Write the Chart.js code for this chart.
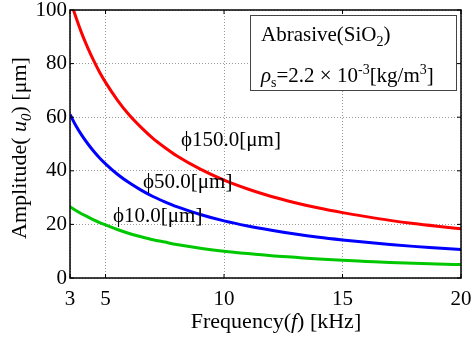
<!DOCTYPE html>
<html>
<head>
<meta charset="utf-8">
<script src="https://cdn.jsdelivr.net/npm/chart.js@4/dist/chart.umd.min.js"></script>
<style>
  html, body { margin: 0; padding: 0; background: #fff; }
  #chart { display: block; }
</style>
</head>
<body>
<canvas id="chart" width="475" height="340"></canvas>
<script>
// frequency samples [kHz]
const frequency = [3.5, 3.75, 4, 4.25, 4.5, 4.75, 5, 5.5, 6, 6.5, 7, 7.5, 8, 9, 10, 11, 12, 13, 14, 15, 16, 17, 18, 19, 20];
// amplitude u0 [um]
const amp150 = [104, 97.3, 91.2, 85.9, 81.1, 76.8, 73, 66.4, 60.8, 56.2, 52.1, 48.7, 45.6, 40.6, 36.5, 33.2, 30.4, 28.1, 26.1, 24.4, 22.9, 21.5, 20.3, 19.3, 18.4];
const amp50 = [61, 56.8, 53.2, 50.1, 47.3, 44.8, 42.6, 38.7, 35.5, 32.8, 30.4, 28.4, 26.6, 23.7, 21.3, 19.4, 17.8, 16.4, 15.2, 14.2, 13.3, 12.5, 11.8, 11.2, 10.6];
const amp10 = [26.6, 25.2, 23.9, 22.8, 21.7, 20.7, 19.8, 18.1, 16.6, 15.4, 14.3, 13.4, 12.5, 11.1, 10, 9.1, 8.3, 7.7, 7.1, 6.6, 6.2, 5.8, 5.5, 5.2, 5];

const xTickValues = [3.5, 5, 10, 15, 20];
const xTickLabels = ['3', '5', '10', '15', '20'];
const yTickValues = [0, 20, 40, 60, 80, 100];

const serif = '"Liberation Serif", "Times New Roman", serif';
const fs = 21;
const titleSize = 22;

function pts(ys) {
  return frequency.map((f, i) => ({ x: f, y: ys[i] }));
}

// pieces: [text, kind]  kind = n | i | sub | isub | sup
function pieceFont(k, size) {
  let s = size, st = '';
  if (k === 'i' || k === 'isub') st = 'italic ';
  if (k === 'sub' || k === 'sup' || k === 'isub') s = Math.round(size * 0.68);
  return st + s + 'px ' + serif;
}

function richText(ctx, x, y, parts, size) {
  let cx = x;
  parts.forEach(([t, k]) => {
    let dy = 0;
    if (k === 'sub' || k === 'isub') dy = size * 0.22;
    if (k === 'sup') dy = -size * 0.38;
    ctx.font = pieceFont(k, size);
    ctx.fillText(t, cx, y + dy);
    cx += ctx.measureText(t).width;
  });
  return cx - x;
}

function richWidth(ctx, parts, size) {
  let w = 0;
  parts.forEach(([t, k]) => {
    ctx.font = pieceFont(k, size);
    w += ctx.measureText(t).width;
  });
  return w;
}

const decorations = {
  id: 'decorations',
  afterDraw(chart) {
    const { ctx, chartArea: a } = chart;
    const xs = chart.scales.x, ys = chart.scales.y;
    ctx.save();
    // frame
    ctx.strokeStyle = '#000';
    ctx.lineWidth = 1.5;
    ctx.strokeRect(a.left, a.top, a.right - a.left, a.bottom - a.top);
    // inward tick marks
    ctx.lineWidth = 1;
    yTickValues.forEach(v => {
      const py = ys.getPixelForValue(v);
      ctx.beginPath();
      ctx.moveTo(a.left, py); ctx.lineTo(a.left + 4, py);
      ctx.moveTo(a.right, py); ctx.lineTo(a.right - 4, py);
      ctx.stroke();
    });
    xTickValues.forEach(v => {
      const px = xs.getPixelForValue(v);
      ctx.beginPath();
      ctx.moveTo(px, a.bottom); ctx.lineTo(px, a.bottom - 4);
      ctx.moveTo(px, a.top); ctx.lineTo(px, a.top + 4);
      ctx.stroke();
    });

    ctx.fillStyle = '#000';
    ctx.textBaseline = 'alphabetic';
    ctx.textAlign = 'left';

    // curve labels
    ctx.font = fs + 'px ' + serif;
    ctx.fillText('\u03d5150.0[\u03bcm]', 181, 146);
    ctx.fillText('\u03d550.0[\u03bcm]', 143, 188);
    ctx.fillText('\u03d510.0[\u03bcm]', 113, 222);

    // info box
    ctx.fillStyle = '#fff';
    ctx.fillRect(250, 15, 207, 76);
    ctx.strokeStyle = '#444';
    ctx.lineWidth = 1;
    ctx.strokeRect(250.5, 15.5, 206, 75);
    ctx.fillStyle = '#000';
    richText(ctx, 261, 41, [['Abrasive(SiO', 'n'], ['2', 'sub'], [')', 'n']], fs);
    richText(ctx, 261, 82, [['\u03c1', 'i'], ['s', 'sub'], ['=2.2 \u00d7 10', 'n'], ['-3', 'sup'], ['[kg/m', 'n'], ['3', 'sup'], [']', 'n']], fs);

    // x title
    const xParts = [['Frequency(', 'n'], ['f', 'i'], [') [kHz]', 'n']];
    const xw = richWidth(ctx, xParts, titleSize);
    richText(ctx, 276 - xw / 2, 328, xParts, titleSize);

    // y title
    const yParts = [['Amplitude( ', 'n'], ['u', 'i'], ['0', 'isub'], [') [\u03bcm]', 'n']];
    const yw = richWidth(ctx, yParts, titleSize);
    ctx.translate(26, 148);
    ctx.rotate(-Math.PI / 2);
    richText(ctx, -yw / 2, 0, yParts, titleSize);
    ctx.restore();
  }
};

new Chart(document.getElementById('chart'), {
  type: 'line',
  data: {
    datasets: [
      { label: '150', data: pts(amp150), borderColor: '#ff0000' },
      { label: '50', data: pts(amp50), borderColor: '#0000ff' },
      { label: '10', data: pts(amp10), borderColor: '#00c800' }
    ]
  },
  options: {
    responsive: false,
    animation: false,
    layout: { padding: { top: 10, right: 14, left: 0, bottom: 0 } },
    elements: {
      line: { borderWidth: 3, cubicInterpolationMode: 'monotone', fill: false },
      point: { radius: 0 }
    },
    plugins: { legend: { display: false }, tooltip: { enabled: false } },
    scales: {
      x: {
        type: 'linear',
        min: 3.5,
        max: 20,
        afterBuildTicks: s => { s.ticks = xTickValues.map(v => ({ value: v })); },
        afterFit: s => { s.height = 62; s.paddingLeft = 0; s.paddingRight = 0; },
        ticks: {
          color: '#000',
          font: { family: serif, size: fs },
          padding: 9,
          maxRotation: 0,
          autoSkip: false,
          callback: (v, i) => xTickLabels[i]
        },
        grid: { color: '#999', drawTicks: false },
        border: { display: false, dash: [1, 2] }
      },
      y: {
        min: 0,
        max: 100,
        afterBuildTicks: s => { s.ticks = yTickValues.map(v => ({ value: v })); },
        afterFit: s => { s.width = 70; s.paddingTop = 0; s.paddingBottom = 0; },
        ticks: {
          color: '#000',
          font: { family: serif, size: fs },
          padding: 3
        },
        grid: { color: '#999', drawTicks: false },
        border: { display: false, dash: [1, 2] }
      }
    }
  },
  plugins: [decorations]
});
</script>
</body>
</html>
